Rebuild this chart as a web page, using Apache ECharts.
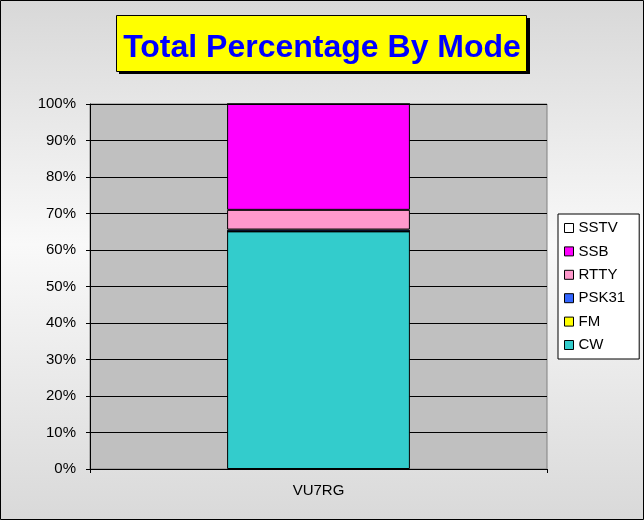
<!DOCTYPE html>
<html>
<head>
<meta charset="utf-8">
<script src="https://cdn.jsdelivr.net/npm/echarts@6/dist/echarts.min.js"></script>
<style>html,body{margin:0;padding:0;}#c{width:644px;height:520px;}</style>
</head>
<body>
<div id="c"></div>
<script>
var categories = ['VU7RG'];
var seriesNames = ['CW', 'FM', 'PSK31', 'RTTY', 'SSB', 'SSTV'];
var cwValues = [65.1];
var fmValues = [0];
var psk31Values = [0.5];
var rttyValues = [5.4];
var ssbValues = [29.0];
var sstvValues = [0];
var yTickValues = [0, 10, 20, 30, 40, 50, 60, 70, 80, 90, 100];
var legendOrder = ['SSTV', 'SSB', 'RTTY', 'PSK31', 'FM', 'CW'];

var colors = {CW:'#33CCCC', FM:'#FFFF00', PSK31:'#3366FF', RTTY:'#FF99CC', SSB:'#FF00FF', SSTV:'#FFFFFF'};
var valueMap = {CW:cwValues, FM:fmValues, PSK31:psk31Values, RTTY:rttyValues, SSB:ssbValues, SSTV:sstvValues};
var FONT = 'Liberation Sans, Arial, sans-serif';

var chart = echarts.init(document.getElementById('c'), null, {renderer:'canvas'});
var series = seriesNames.map(function(n){
  return {
    name: n, type: 'bar', stack: 'total', barWidth: '40%',
    data: valueMap[n],
    itemStyle: {color: colors[n], borderColor: '#000', borderWidth: 1},
    emphasis: {disabled: true}
  };
});

chart.setOption({
  animation: false,
  backgroundColor: {type:'linear', x:0, y:0, x2:0, y2:1, colorStops:[
    {offset:0, color:'#d8d8d8'}, {offset:0.47, color:'#f9f9f9'}, {offset:1, color:'#d9d9d9'}]},
  title: {
    text: 'Total Percentage By Mode',
    left: 'center', top: 26,
    textStyle: {fontFamily: FONT, fontSize: 32, fontWeight: 'bold', color: '#0000FF', lineHeight: 34}
  },
  graphic: [
    {type:'rect', z:-1, zlevel:0, shape:{x:119, y:18, width:411, height:56}, style:{fill:'#000'}, silent:true},
    {type:'rect', z:-1, zlevel:0, shape:{x:116.5, y:15.5, width:410, height:56}, style:{fill:'#FFFF00', stroke:'#000', lineWidth:1}, silent:true},
    {type:'rect', z:100, shape:{x:0.5, y:0.5, width:643, height:519}, style:{fill:'none', stroke:'#000', lineWidth:1}, silent:true}
  ],
  grid: {left: 90, top: 104, width: 457, height: 365, show: true, backgroundColor: '#C0C0C0', borderColor: '#808080', borderWidth: 1},
  legend: {
    orient: 'vertical', left: 558, top: 214,
    data: legendOrder,
    backgroundColor: '#FFFFFF', borderColor: '#000', borderWidth: 1,
    padding: [6, 14, 6, 6],
    itemWidth: 9, itemHeight: 9, itemGap: 7.4, itemTextGap: 5,
    icon: 'rect',
    itemStyle: {borderColor: '#000', borderWidth: 1},
    textStyle: {fontFamily: FONT, fontSize: 15, color: '#000', lineHeight: 16},
    selectedMode: false
  },
  xAxis: {
    type: 'category', data: categories,
    axisLine: {lineStyle: {color: '#000', width: 1}},
    axisTick: {show: true, length: 4, lineStyle: {color: '#000'}},
    axisLabel: {fontFamily: FONT, fontSize: 15, color: '#000', margin: 14},
    splitLine: {show: false}
  },
  yAxis: {
    type: 'value', min: yTickValues[0], max: yTickValues[yTickValues.length-1], interval: 10,
    axisLine: {show: true, lineStyle: {color: '#000', width: 1}},
    axisTick: {show: true, length: 4, lineStyle: {color: '#000'}},
    axisLabel: {fontFamily: FONT, fontSize: 15, color: '#000', margin: 14, formatter: '{value}%'},
    splitLine: {show: true, lineStyle: {color: '#000', width: 1}}
  },
  series: series
});
</script>
</body>
</html>
